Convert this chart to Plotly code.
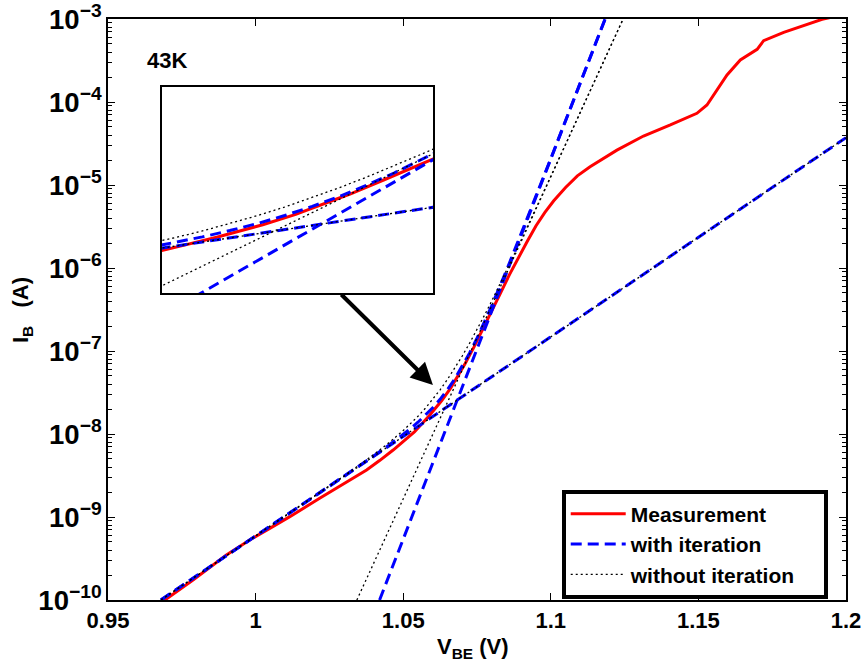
import plotly.graph_objects as go

# ---------------- data ----------------
# Measurement: V_BE (V) and log10(I_B / A)
meas_v = [0.9685, 0.9788, 0.9901, 0.9980, 1.0048, 1.0116, 1.0217, 1.0263, 1.0320, 1.0376,
          1.0420, 1.0466, 1.0538, 1.0588, 1.0630, 1.0660, 1.0690, 1.0710, 1.0740, 1.0770,
          1.0800, 1.0830, 1.0860, 1.0890, 1.0920, 1.0950, 1.0980, 1.1010, 1.1050, 1.1090,
          1.1133, 1.1224, 1.1314, 1.1405, 1.1495, 1.1529, 1.1563, 1.1597, 1.1642, 1.1699,
          1.1721, 1.1789, 1.1919, 1.2000]
meas_log_i = [-10.02, -9.759, -9.458, -9.277, -9.137, -8.996, -8.775, -8.675, -8.560, -8.434,
              -8.320, -8.193, -7.975, -7.780, -7.600, -7.450, -7.270, -7.150, -6.950, -6.740,
              -6.520, -6.300, -6.080, -5.870, -5.680, -5.490, -5.330, -5.190, -5.030, -4.890,
              -4.780, -4.580, -4.410, -4.277, -4.136, -4.036, -3.855, -3.675, -3.494, -3.365,
              -3.261, -3.160, -3.004, -2.940]

# Model "with iteration": total curve and its steep component
with_sum_v = [0.968, 1.0, 1.03, 1.04, 1.045, 1.05, 1.0525, 1.055, 1.0575, 1.06, 1.0625,
              1.065, 1.0675, 1.07, 1.0725, 1.075, 1.0775, 1.08, 1.085, 1.09, 1.1, 1.1184]
with_sum_log_i = [-9.998, -9.23, -8.509, -8.265, -8.139, -8.005, -7.934, -7.858, -7.776,
                  -7.684, -7.582, -7.466, -7.334, -7.187, -7.023, -6.845, -6.653, -6.452,
                  -6.028, -5.587, -4.682, -3.0]
with_steep_v = [1.0420, 1.1184]
with_steep_log_i = [-10.0, -3.0]

# Low-injection component shared by both models
shallow_v = [0.9679, 1.2000]
shallow_log_i = [-10.0, -4.43]

# Model "without iteration": total curve and steep component
without_sum_v = [0.968, 1.0, 1.03, 1.04, 1.045, 1.05, 1.0525, 1.055, 1.0575, 1.06, 1.0625,
                 1.065, 1.0675, 1.07, 1.0725, 1.075, 1.0775, 1.08, 1.085, 1.09, 1.1, 1.1245]
without_sum_log_i = [-9.998, -9.23, -8.503, -8.248, -8.110, -7.959, -7.876, -7.787, -7.690,
                     -7.583, -7.468, -7.342, -7.206, -7.060, -6.905, -6.742, -6.572, -6.397,
                     -6.034, -5.660, -4.896, -3.0]
without_steep_v = [1.0343, 1.1245]
without_steep_log_i = [-10.0, -3.0]

x_tick_vals = [0.95, 1.0, 1.05, 1.1, 1.15, 1.2]
x_tick_text = ["0.95", "1", "1.05", "1.1", "1.15", "1.2"]

legend_names = ["Measurement", "with iteration", "without iteration"]

# ---------------- figure ----------------
def amps(logs):
    return [10 ** v for v in logs]

RED = "#ff0000"
BLUE = "#0000ff"
DASH = "11px,6px"
DOT = "2px,3px"
FONT = "Liberation Sans, Arial, Helvetica, sans-serif"
PAD = "\u00a0" * 4  # extra room at the right of the legend box, as in the reference

red_line = dict(color=RED, width=3)
blue_line = dict(color=BLUE, width=3, dash=DASH)
dot_line = dict(color="black", width=1.3, dash=DOT)

series = [
    (legend_names[0], meas_v, meas_log_i, red_line, True),
    (legend_names[1], with_sum_v, with_sum_log_i, blue_line, True),
    (legend_names[1], shallow_v, shallow_log_i, blue_line, False),
    (legend_names[1], with_steep_v, with_steep_log_i, blue_line, False),
    (legend_names[2], without_sum_v, without_sum_log_i, dot_line, True),
    (legend_names[2], shallow_v, shallow_log_i, dot_line, False),
    (legend_names[2], without_steep_v, without_steep_log_i, dot_line, False),
]

fig = go.Figure()
for name, xs, ls, line, leg in series:
    fig.add_trace(go.Scatter(x=xs, y=amps(ls), mode="lines", name=name + PAD, line=line,
                             showlegend=leg, xaxis="x", yaxis="y"))
for name, xs, ls, line, leg in series:
    fig.add_trace(go.Scatter(x=xs, y=amps(ls), mode="lines", name=name, line=line,
                             showlegend=False, xaxis="x2", yaxis="y2"))

axis_common = dict(showline=True, linewidth=2, linecolor="black", showgrid=False,
                   zeroline=False, automargin=False)

fig.update_layout(
    width=864, height=666,
    margin=dict(l=108, r=18, t=19, b=66),
    paper_bgcolor="white", plot_bgcolor="white",
    font=dict(family=FONT, size=22, color="black", weight="bold"),
    xaxis=dict(domain=[0, 1], range=[0.95, 1.2], tickvals=x_tick_vals, ticktext=x_tick_text,
               ticks="inside", ticklen=7, tickwidth=1, tickcolor="black", mirror="allticks",
               **axis_common),
    yaxis=dict(domain=[0, 1], type="log", range=[-10, -3], dtick=1, exponentformat="power",
               ticks="inside", ticklen=7, tickwidth=1, tickcolor="black", mirror="allticks",
               minor=dict(ticks="inside", ticklen=4, tickwidth=1, tickcolor="black",
                          dtick="D1", showgrid=False),
               **axis_common),
    xaxis2=dict(domain=[0.0728, 0.4404], anchor="y2", range=[1.0538, 1.0785],
                showticklabels=False, ticks="", mirror=True, **axis_common),
    yaxis2=dict(domain=[0.5284, 0.8830], anchor="x2", type="log", range=[-8.59, -5.60],
                showticklabels=False, ticks="", mirror=True, **axis_common),
    legend=dict(x=0.6148, y=0.19, xanchor="left", yanchor="top", bgcolor="white",
                bordercolor="black", borderwidth=4, font=dict(size=21),
                itemwidth=55, tracegroupgap=0),
    showlegend=True,
)

fig.add_annotation(text="43K", x=0.0799, y=0.9294, xref="paper", yref="paper",
                   showarrow=False, xanchor="center", yanchor="middle")
fig.add_annotation(text="V<sub>BE</sub> (V)", x=0.494, y=-0.083, xref="paper", yref="paper",
                   showarrow=False, xanchor="center", yanchor="middle")
fig.add_annotation(text="I<sub>B</sub>\u00a0\u00a0\u00a0(A)", x=-0.1165, y=0.499,
                   xref="paper", yref="paper", textangle=-90, showarrow=False,
                   xanchor="center", yanchor="middle")
fig.add_annotation(text="", x=1.06007, y=-7.410, ax=1.02853, ay=-6.301,
                   xref="x", yref="y", axref="x", ayref="y", showarrow=True,
                   arrowhead=2, arrowwidth=4, arrowsize=1.1, arrowcolor="black", standoff=0)

fig.write_html("out.html")
